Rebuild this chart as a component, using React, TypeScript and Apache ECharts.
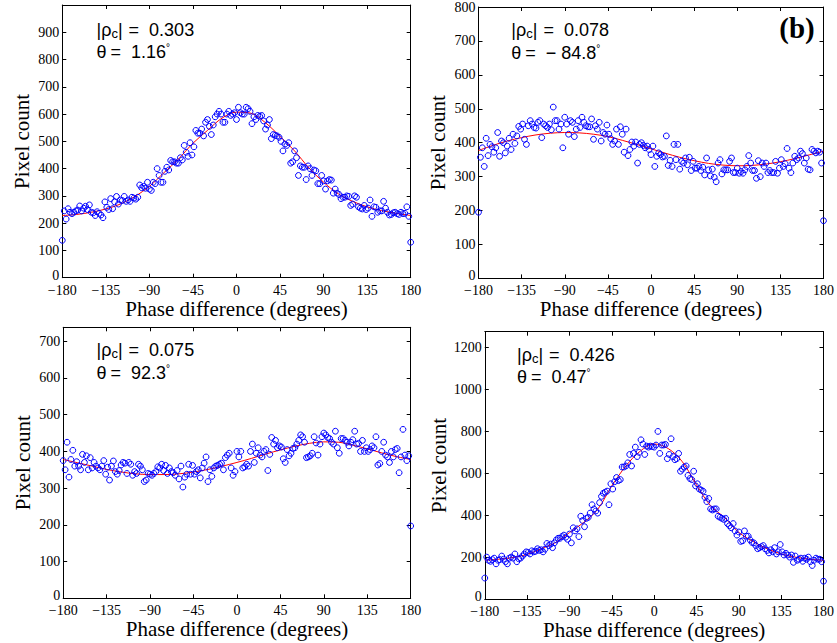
import React, { useEffect, useRef } from "react";
import * as echarts from "echarts";

// Phase-difference bins (degrees), 2° step
const PHASE_DEG = [
  -180, -178, -176, -174, -172, -170, -168, -166, -164, -162,
  -160, -158, -156, -154, -152, -150, -148, -146, -144, -142,
  -140, -138, -136, -134, -132, -130, -128, -126, -124, -122,
  -120, -118, -116, -114, -112, -110, -108, -106, -104, -102,
  -100, -98, -96, -94, -92, -90, -88, -86, -84, -82,
  -80, -78, -76, -74, -72, -70, -68, -66, -64, -62,
  -60, -58, -56, -54, -52, -50, -48, -46, -44, -42,
  -40, -38, -36, -34, -32, -30, -28, -26, -24, -22,
  -20, -18, -16, -14, -12, -10, -8, -6, -4, -2,
  0, 2, 4, 6, 8, 10, 12, 14, 16, 18,
  20, 22, 24, 26, 28, 30, 32, 34, 36, 38,
  40, 42, 44, 46, 48, 50, 52, 54, 56, 58,
  60, 62, 64, 66, 68, 70, 72, 74, 76, 78,
  80, 82, 84, 86, 88, 90, 92, 94, 96, 98,
  100, 102, 104, 106, 108, 110, 112, 114, 116, 118,
  120, 122, 124, 126, 128, 130, 132, 134, 136, 138,
  140, 142, 144, 146, 148, 150, 152, 154, 156, 158,
  160, 162, 164, 166, 168, 170, 172, 174, 176, 178, 180,
];

const FIT_DEG = [
  -180, -165, -150, -135, -120, -105, -90, -75, -60, -45, -30, -15, 0,
  15, 30, 45, 60, 75, 90, 105, 120, 135, 150, 165, 180,
];

// Panel (a) top-left
const COUNTS_A = [
  137, 245, 215, 253, 240, 235, 240, 245, 248, 263,
  245, 255, 262, 250, 267, 240, 238, 228, 242, 236,
  230, 220, 278, 258, 250, 290, 253, 278, 298, 270,
  285, 283, 298, 280, 285, 280, 295, 292, 288, 295,
  340, 330, 335, 328, 350, 325, 320, 350, 345, 400,
  375, 350, 350, 390, 405, 395, 430, 425, 425, 420,
  420, 440, 432, 485, 460, 445, 495, 450, 480, 540,
  530, 530, 545, 520, 570, 580, 555, 525, 560, 590,
  600, 610, 600, 570, 570, 600, 610, 595, 600, 605,
  580, 625, 605, 600, 600, 625, 620, 610, 565, 590,
  580, 595, 592, 595, 575, 545, 560, 580, 510, 525,
  522, 520, 515, 500, 465, 490, 485, 495, 420, 425,
  465, 440, 375, 410, 405, 405, 360, 410, 400, 375,
  395, 392, 345, 345, 375, 355, 325, 355, 360, 358,
  310, 325, 310, 305, 290, 295, 295, 300, 298, 265,
  270, 300, 295, 260, 255, 252, 265, 250, 255, 285,
  225, 260, 258, 240, 245, 245, 280, 255, 240, 230,
  232, 238, 240, 235, 232, 240, 235, 236, 260, 225, 130,
];
const FIT_A = [
  228, 232, 240, 252, 270, 298, 335, 385, 435, 493, 540, 585, 607,
  603, 568, 518, 465, 402, 350, 308, 280, 260, 246, 236, 228,
];

// Panel (b) top-right
const COUNTS_B = [
  195, 357, 385, 330, 413, 362, 395, 388, 372, 385,
  430, 360, 405, 400, 370, 390, 413, 380, 425, 398,
  420, 448, 440, 455, 410, 395, 450, 465, 455, 445,
  443, 460, 465, 415, 455, 450, 445, 455, 438, 505,
  465, 465, 440, 455, 385, 475, 455, 425, 465, 460,
  418, 440, 465, 445, 475, 460, 450, 447, 447, 470,
  410, 450, 440, 460, 405, 430, 425, 452, 425, 412,
  395, 405, 440, 395, 447, 425, 372, 440, 362, 380,
  402, 390, 402, 340, 395, 400, 392, 385, 390, 380,
  365, 390, 330, 360, 370, 365, 358, 360, 420, 333,
  348, 330, 395, 350, 395, 322, 345, 340, 355, 335,
  357, 318, 345, 325, 325, 330, 318, 328, 305, 355,
  320, 302, 322, 298, 285, 340, 350, 308, 320, 320,
  320, 345, 355, 312, 312, 325, 310, 315, 310, 320,
  330, 362, 340, 318, 318, 295, 347, 300, 340, 330,
  340, 312, 318, 312, 312, 345, 310, 325, 350, 330,
  338, 383, 325, 312, 340, 360, 350, 355, 375, 368,
  340, 355, 322, 320, 380, 375, 370, 375, 372, 340, 170,
];
const FIT_B = [
  377, 392, 405, 415, 423, 428, 430, 429, 425, 418, 407, 395, 382,
  369, 357, 347, 339, 334, 332, 333, 337, 344, 353, 364, 375,
];

// Panel (c) bottom-left
const COUNTS_C = [
  375, 350, 425, 330, 378, 403, 360, 372, 360, 350,
  392, 370, 388, 350, 383, 355, 370, 360, 355, 350,
  360, 375, 338, 357, 322, 360, 374, 345, 338, 348,
  363, 370, 368, 340, 370, 365, 335, 345, 340, 365,
  360, 350, 318, 322, 340, 338, 335, 340, 345, 358,
  355, 365, 348, 362, 340, 355, 345, 342, 335, 348,
  325, 360, 303, 330, 338, 365, 338, 362, 338, 345,
  350, 328, 355, 368, 385, 318, 350, 332, 355, 360,
  362, 365, 368, 350, 383, 390, 395, 355, 335, 345,
  400, 385, 400, 355, 358, 365, 360, 400, 420, 370,
  395, 410, 390, 385, 400, 405, 348, 392, 438, 420,
  430, 410, 415, 412, 380, 370, 405, 388, 395, 408,
  410, 420, 430, 445, 440, 425, 383, 385, 388, 395,
  440, 423, 390, 420, 440, 450, 445, 438, 435, 425,
  420, 455, 410, 395, 435, 435, 430, 425, 415, 425,
  432, 455, 420, 422, 400, 430, 400, 410, 400, 405,
  415, 410, 440, 363, 367, 400, 425, 390, 385, 370,
  400, 385, 405, 408, 342, 385, 460, 390, 375, 388, 197,
];
const FIT_C = [
  378, 369, 360, 351, 344, 339, 337, 337, 339, 344, 351, 360, 370,
  381, 393, 404, 414, 422, 426, 425, 417, 407, 396, 386, 378,
];

// Panel (d) bottom-right
const COUNTS_D = [
  100, 200, 185, 180, 188, 195, 168, 185, 188, 205,
  190, 178, 168, 195, 200, 195, 215, 178, 192, 195,
  205, 215, 225, 222, 215, 230, 225, 228, 240, 232,
  235, 225, 238, 265, 255, 262, 245, 268, 282, 290,
  290, 298, 305, 295, 285, 310, 268, 340, 325, 335,
  298, 395, 375, 345, 385, 390, 410, 450, 430, 420,
  410, 460, 490, 505, 510, 515, 450, 550, 525, 560,
  580, 565, 570, 630, 630, 635, 650, 690, 635, 695,
  725, 680, 700, 760, 740, 690, 730, 725, 730, 728,
  725, 735, 800, 695, 735, 735, 738, 670, 690, 765,
  680, 665, 670, 695, 610, 620, 630, 635, 590, 575,
  570, 610, 540, 550, 525, 520, 515, 485, 465, 480,
  430, 425, 430, 430, 395, 390, 385, 380, 385, 360,
  350, 340, 360, 325, 305, 320, 275, 278, 325, 300,
  300, 282, 270, 268, 255, 240, 245, 250, 255, 240,
  232, 220, 235, 225, 245, 215, 225, 260, 225, 210,
  218, 210, 200, 210, 175, 205, 185, 190, 195, 180,
  195, 190, 200, 178, 160, 185, 195, 190, 190, 178, 85,
];
const FIT_D = [
  185, 190, 198, 213, 240, 269, 317, 365, 428, 540, 635, 705, 740,
  718, 655, 545, 445, 388, 318, 275, 240, 215, 200, 190, 185,
];

const RHO_LABELS = ["0.303", "0.078", "0.075", "0.426"];
const THETA_LABELS = ["1.16", "\u2212 84.8", "92.3", "0.47"];
const Y_MAX = [1000, 800, 738, 1276];
const Y_STEP = [100, 100, 100, 200];
const PANEL_TAG = "(b)";
const X_TITLE = "Phase difference (degrees)";
const Y_TITLE = "Pixel count";

const COUNTS = [COUNTS_A, COUNTS_B, COUNTS_C, COUNTS_D];
const FITS = [FIT_A, FIT_B, FIT_C, FIT_D];

// Layout (pixels)
const LAYOUT = [
  { left: 62.3, top: 5, width: 348.4, height: 272.7, tx: 96.5, ty1: 29.7, ty2: 52 },
  { left: 478.5, top: 6.7, width: 347.5, height: 271.7, tx: 511.3, ty1: 30.3, ty2: 53 },
  { left: 63.2, top: 327.3, width: 347.5, height: 271, tx: 96.5, ty1: 350.3, ty2: 373 },
  { left: 484.8, top: 331.7, width: 341.2, height: 267.3, tx: 517, ty1: 354.5, ty2: 377 },
];

const SERIF = "Liberation Serif";
const SANS = "Liberation Sans";

const fmtDeg = (v: number) => (v < 0 ? "\u2212" + Math.abs(v) : String(v));
// the zero label sits in the corner right above "−180": lift it slightly
const fmtCount = (v: number) => (v === 0 ? "{z|0}" : String(v));

export default function App() {
  const ref = useRef<HTMLDivElement>(null);

  useEffect(() => {
    if (!ref.current) return;
    const chart = echarts.init(ref.current, undefined, { renderer: "svg" });

    const grids: any[] = [];
    const xAxes: any[] = [];
    const yAxes: any[] = [];
    const series: any[] = [];
    const graphics: any[] = [];

    const tick = { show: true, inside: true, length: 4, lineStyle: { color: "#000", width: 1 } };
    const line = { show: true, onZero: false, lineStyle: { color: "#000", width: 1 } };

    LAYOUT.forEach((L, p) => {
      grids.push({ left: L.left, top: L.top, width: L.width, height: L.height, containLabel: false });
      const xb = { type: "value", gridIndex: p, min: -180, max: 180, interval: 45, splitLine: { show: false } };
      xAxes.push({
        ...xb,
        position: "bottom",
        axisLine: line,
        axisTick: tick,
        axisLabel: {
          show: true,
          margin: 6.5,
          fontFamily: SERIF,
          fontSize: 14,
          lineHeight: 12,
          color: "#000",
          formatter: fmtDeg,
        },
        name: X_TITLE,
        nameLocation: "middle",
        nameGap: 16,
        nameTextStyle: { fontFamily: SERIF, fontSize: 21, color: "#000" },
      });
      xAxes.push({ ...xb, position: "top", axisLine: line, axisTick: tick, axisLabel: { show: false } });

      const yb = { type: "value", gridIndex: p, min: 0, max: Y_MAX[p], interval: Y_STEP[p], splitLine: { show: false } };
      const showMax = Y_MAX[p] % Y_STEP[p] === 0 && p !== 0;
      yAxes.push({
        ...yb,
        position: "left",
        axisLine: line,
        axisTick: tick,
        axisLabel: {
          show: true,
          margin: 3,
          fontFamily: SERIF,
          fontSize: 14,
          lineHeight: 12,
          color: "#000",
          showMaxLabel: showMax,
          formatter: fmtCount,
          rich: {
            z: {
              fontFamily: SERIF,
              fontSize: 14,
              lineHeight: 12,
              color: "#000",
              padding: [0, 0, 5, 0],
            },
          },
        },
        name: Y_TITLE,
        nameLocation: "middle",
        nameRotate: 90,
        nameGap: 30,
        nameTextStyle: { fontFamily: SERIF, fontSize: 21, color: "#000" },
      });
      yAxes.push({ ...yb, position: "right", axisLine: line, axisTick: tick, axisLabel: { show: false } });

      series.push({
        type: "line",
        xAxisIndex: 2 * p,
        yAxisIndex: 2 * p,
        data: FIT_DEG.map((d, i) => [d, FITS[p][i]]),
        smooth: 0.35,
        showSymbol: false,
        symbol: "none",
        lineStyle: { color: "#ff0000", width: 1 },
        silent: true,
        z: 2,
      });
      series.push({
        type: "scatter",
        xAxisIndex: 2 * p,
        yAxisIndex: 2 * p,
        data: PHASE_DEG.map((d, i) => [d, COUNTS[p][i]]),
        symbol: "circle",
        symbolSize: 5.8,
        itemStyle: { color: "rgba(0,0,0,0)", borderColor: "#0000ff", borderWidth: 1, opacity: 1 },
        silent: true,
        clip: false,
        z: 3,
      });

      const rich = {
        a: { fontSize: 18, fontFamily: SANS, fill: "#000", lineHeight: 20 },
        s: { fontSize: 13, fontFamily: SANS, fill: "#000", lineHeight: 11, verticalAlign: "bottom" },
        e1: { fontSize: 18, fontFamily: SANS, fill: "#000", lineHeight: 20, padding: [0, 10, 0, 6] },
        e2: { fontSize: 18, fontFamily: SANS, fill: "#000", lineHeight: 20, padding: [0, 10, 0, 4] },
        d: { fontSize: 10, fontFamily: SANS, fill: "#000", lineHeight: 10, verticalAlign: "top" },
      };
      graphics.push({
        type: "text",
        x: L.tx,
        y: L.ty1,
        silent: true,
        style: {
          text: "{a||\u03c1}{s|c}{a||}{e1|=}{a|" + RHO_LABELS[p] + "}",
          rich,
          align: "left",
          verticalAlign: "middle",
          fontSize: 18,
          fontFamily: SANS,
          fill: "#000",
        },
      });
      graphics.push({
        type: "text",
        x: L.tx,
        y: L.ty2,
        silent: true,
        style: {
          text: "{a|\u03b8}{e2|=}{a|" + THETA_LABELS[p] + "}{d|\u00b0}",
          rich,
          align: "left",
          verticalAlign: "middle",
          fontSize: 18,
          fontFamily: SANS,
          fill: "#000",
        },
      });
    });

    graphics.push({
      type: "text",
      x: 797,
      y: 28,
      silent: true,
      style: {
        text: PANEL_TAG,
        fontSize: 29,
        fontWeight: "bold",
        fontFamily: SERIF,
        fill: "#000",
        align: "center",
        verticalAlign: "middle",
      },
    });

    chart.setOption({
      animation: false,
      backgroundColor: "#ffffff",
      grid: grids,
      xAxis: xAxes,
      yAxis: yAxes,
      series,
      graphic: graphics,
    });

    return () => chart.dispose();
  }, []);

  return (
    <div
      ref={ref}
      style={{ position: "absolute", left: 0, top: 0, width: 837, height: 643, background: "#fff" }}
    />
  );
}
